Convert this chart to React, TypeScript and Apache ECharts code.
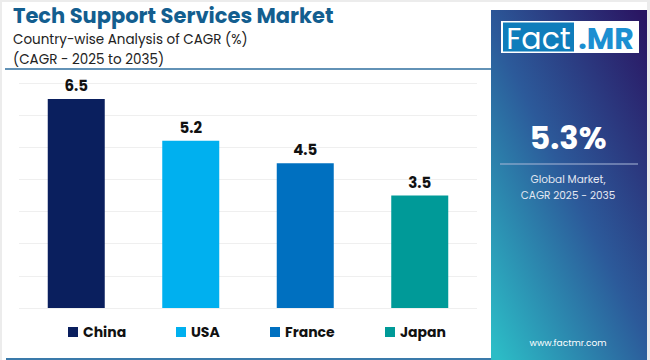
import React, { useEffect, useRef } from "react";
import * as echarts from "echarts";

const categories = ["China", "USA", "France", "Japan"];
const values = [6.5, 5.2, 4.5, 3.5];
const barColors = ["#0a1f5e", "#00b0ef", "#0070c0", "#009a98"];
const legendLeft = [68, 176, 270, 385];
const yTicks = [0, 1, 2, 3, 4, 5, 6, 7];

const FONT = "Poppins, Inter, 'Open Sans', sans-serif";

export default function App() {
  const ref = useRef<HTMLDivElement>(null);
  useEffect(() => {
    if (!ref.current) return;
    const chart = echarts.init(ref.current, undefined, { renderer: "svg" });
    const series = categories.map((name, i) => ({
      name,
      type: "bar",
      stack: "all",
      barWidth: 57,
      itemStyle: { color: barColors[i] },
      label: {
        show: true,
        position: "top",
        distance: 6,
        color: "#111",
        fontWeight: "bold",
        fontSize: 15,
        fontFamily: FONT,
        formatter: (p: any) => String(p.value),
      },
      data: categories.map((_, j) => (j === i ? values[i] : "-")),
    }));
    chart.setOption({
      animation: false,
      backgroundColor: "#ececec",
      grid: { left: 19, right: 173, top: 83, bottom: 52 },
      xAxis: {
        type: "category",
        data: categories,
        axisLine: { show: false },
        axisTick: { show: false },
        axisLabel: { show: false },
      },
      yAxis: {
        type: "value",
        min: yTicks[0],
        max: yTicks[yTicks.length - 1],
        interval: 1,
        axisLabel: { show: false },
        axisLine: { show: false },
        axisTick: { show: false },
        splitLine: { lineStyle: { color: "#efefef", width: 1 } },
      },
      legend: categories.map((name, i) => ({
        data: [name],
        left: legendLeft[i],
        top: 325,
        padding: 0,
        icon: "rect",
        itemWidth: 10,
        itemHeight: 10,
        selectedMode: false,
        textStyle: { color: "#111", fontWeight: "bold", fontSize: 14, fontFamily: FONT },
      })),
      graphic: [
        { type: "rect", z: -10, shape: { x: 2, y: 2, width: 645, height: 358 }, style: { fill: "#ffffff" } },
        {
          type: "text", x: 13, y: 15.5,
          style: { text: "Tech Support Services Market", fill: "#135e8f", font: `bold 21px ${FONT}`, verticalAlign: "middle" },
        },
        {
          type: "text", x: 13, y: 39,
          style: { text: "Country-wise Analysis of CAGR (%)", fill: "#222", font: `13.5px ${FONT}`, verticalAlign: "middle" },
        },
        {
          type: "text", x: 13, y: 59,
          style: { text: "(CAGR - 2025 to 2035)", fill: "#222", font: `13.5px ${FONT}`, verticalAlign: "middle" },
        },
        { type: "line", shape: { x1: 5, y1: 69, x2: 492, y2: 69 }, style: { stroke: "#2e6e9e", lineWidth: 1.5 } },
        { type: "line", shape: { x1: 6, y1: 359, x2: 492, y2: 359 }, style: { stroke: "#3a7aaa", lineWidth: 2 } },
        {
          type: "rect",
          shape: { x: 491, y: 10, width: 156, height: 350 },
          style: {
            fill: new echarts.graphic.LinearGradient(0.95, 0, 0.05, 1, [
              { offset: 0, color: "#2a1663" },
              { offset: 0.5, color: "#2c5a9a" },
              { offset: 1, color: "#2cbcc6" },
            ]),
          },
        },
        { type: "rect", shape: { x: 501, y: 21, width: 138, height: 32 }, style: { fill: "#ffffff" } },
        { type: "rect", shape: { x: 503, y: 22.5, width: 71, height: 29 }, style: { fill: "#0f7dbb" } },
        {
          type: "text", x: 538.5, y: 38,
          style: { text: "Fact", fill: "#fff", font: `30px ${FONT}`, align: "center", verticalAlign: "middle" },
        },
        {
          type: "text", x: 606, y: 38,
          style: { text: ".MR", fill: "#1c8fd1", font: `bold 30px ${FONT}`, align: "center", verticalAlign: "middle" },
        },
        {
          type: "text", x: 568, y: 137,
          style: { text: "5.3%", fill: "#fff", font: `bold 32px ${FONT}`, align: "center", verticalAlign: "middle" },
        },
        { type: "line", shape: { x1: 500, y1: 164, x2: 638, y2: 164 }, style: { stroke: "#a9b8d8", lineWidth: 1.2 } },
        {
          type: "text", x: 568, y: 179.5,
          style: { text: "Global Market,", fill: "#e4e8f2", font: `10.5px ${FONT}`, align: "center", verticalAlign: "middle" },
        },
        {
          type: "text", x: 568, y: 195,
          style: { text: "CAGR 2025 - 2035", fill: "#e4e8f2", font: `10.5px ${FONT}`, align: "center", verticalAlign: "middle" },
        },
        {
          type: "text", x: 568, y: 343,
          style: { text: "www.factmr.com", fill: "#ffffff", font: `9px ${FONT}`, align: "center", verticalAlign: "middle" },
        },
      ],
      series,
    });
    return () => chart.dispose();
  }, []);
  return <div ref={ref} style={{ position: "fixed", left: 0, top: 0, width: 650, height: 360 }} />;
}
